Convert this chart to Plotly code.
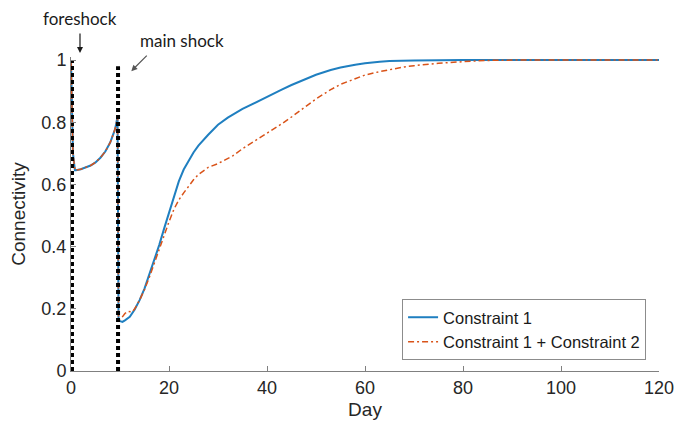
import plotly.graph_objects as go

# Connectivity recovery after the foreshock / main shock sequence
days_c1 = [0, 0.4, 0.8, 1, 2, 3, 4, 5, 6, 7, 8, 9, 9.5, 9.7, 10.5, 11, 12, 13, 14, 15,
           16, 17, 18, 19, 20, 21, 22, 23, 24, 25, 26, 27, 28, 30, 32, 35, 38, 40, 43,
           45, 48, 50, 53, 55, 58, 60, 63, 65, 70, 75, 80, 90, 100, 110, 120]
conn_c1 = [1.0, 0.70, 0.646, 0.646, 0.649, 0.654, 0.661, 0.671, 0.686, 0.706, 0.735,
           0.778, 0.818, 0.162, 0.158, 0.163, 0.174, 0.198, 0.228, 0.265, 0.31, 0.358,
           0.405, 0.458, 0.51, 0.565, 0.61, 0.648, 0.678, 0.703, 0.725, 0.744, 0.76,
           0.792, 0.815, 0.843, 0.867, 0.882, 0.905, 0.92, 0.94, 0.953, 0.968, 0.976,
           0.985, 0.99, 0.995, 0.997, 0.999, 1.0, 1.0, 1.0, 1.0, 1.0, 1.0]

days_c12 = [0, 0.4, 0.8, 1, 2, 3, 4, 5, 6, 7, 8, 9, 9.5, 9.7, 10.2, 11, 11.6, 12.5, 13,
            14, 15, 16, 17, 18, 19, 20, 21, 22, 23, 24, 25, 26, 27, 28, 30, 32, 33, 35,
            38, 40, 43, 45, 47, 50, 53, 55, 58, 60, 63, 65, 68, 70, 75, 80, 85, 90,
            100, 110, 120]
conn_c12 = [1.0, 0.70, 0.646, 0.646, 0.649, 0.654, 0.661, 0.671, 0.686, 0.706, 0.735,
            0.778, 0.818, 0.165, 0.168, 0.185, 0.192, 0.19, 0.20, 0.228, 0.262, 0.302,
            0.348, 0.395, 0.44, 0.48, 0.52, 0.55, 0.573, 0.595, 0.615, 0.632, 0.645,
            0.655, 0.667, 0.682, 0.692, 0.715, 0.745, 0.763, 0.795, 0.817, 0.84, 0.875,
            0.905, 0.922, 0.94, 0.952, 0.963, 0.97, 0.978, 0.982, 0.99, 0.995, 0.999,
            1.0, 1.0, 1.0, 1.0]

# Shock events (day, height of the marker line)
shock_days = [0.2, 9.6]
shock_tops = [1.0, 0.98]

series_names = ["Constraint 1", "Constraint 1 + Constraint 2"]
x_ticks = [0, 20, 40, 60, 80, 100, 120]
y_ticks = [0, 0.2, 0.4, 0.6, 0.8, 1]

AX_FONT = "Liberation Sans, Arial, sans-serif"

fig = go.Figure()

fig.add_trace(go.Scatter(
    x=days_c1, y=conn_c1, mode="lines", name=series_names[0],
    line=dict(color="#1f7fc0", width=2),
))
fig.add_trace(go.Scatter(
    x=days_c12, y=conn_c12, mode="lines", name=series_names[1],
    line=dict(color="#D95319", width=1.5, dash="6px,3px,2px,3px"),
))

for d, top in zip(shock_days, shock_tops):
    fig.add_trace(go.Scatter(
        x=[d, d], y=[0, top], mode="lines", showlegend=False, hoverinfo="skip",
        line=dict(color="black", width=4, dash="4px,3px"),
    ))

fig.update_layout(
    width=675, height=427,
    margin=dict(l=71, r=16, t=57, b=56, autoexpand=False),
    paper_bgcolor="white", plot_bgcolor="white",
    font=dict(family=AX_FONT, size=18, color="#262626"),
    legend=dict(
        x=0.978, y=0.035, xanchor="right", yanchor="bottom",
        bgcolor="white", bordercolor="#8c8c8c", borderwidth=1,
        font=dict(size=16.5, color="#1a1a1a"),
    ),
    xaxis=dict(
        range=[0, 120], tickvals=x_ticks, showgrid=False, zeroline=False,
        showline=True, linecolor="#808080", linewidth=1, automargin=False,
        ticks="inside", ticklen=5, tickcolor="#808080",
        title=dict(text="Day", font=dict(size=19), standoff=6),
    ),
    yaxis=dict(
        range=[0, 1.01], tickvals=y_ticks, ticktext=["0", "0.2", "0.4", "0.6", "0.8", "1"],
        showgrid=False, zeroline=False, automargin=False,
        showline=True, linecolor="#808080", linewidth=1,
        ticks="inside", ticklen=5, tickcolor="#808080",
        title=dict(text="Connectivity", font=dict(size=19), standoff=10),
    ),
)

# Event labels with pointer arrows
ANN_FONT = dict(family="Lato, Open Sans, sans-serif", size=17, color="#1a1a1a")
fig.add_annotation(xref="paper", yref="paper", x=0.0153, y=1.124, text="foreshock",
                   showarrow=False, font=ANN_FONT, xanchor="center", yanchor="middle")
fig.add_annotation(xref="paper", yref="paper", x=0.0153, y=1.013, text="",
                   showarrow=True, ax=0, ay=-21, arrowhead=2, arrowsize=1,
                   arrowwidth=1.2, arrowcolor="#1a1a1a")
fig.add_annotation(xref="paper", yref="paper", x=0.189, y=1.051, text="main shock",
                   showarrow=False, font=ANN_FONT, xanchor="center", yanchor="middle")
fig.add_annotation(xref="paper", yref="paper", x=0.1025, y=0.955, text="",
                   showarrow=True, ax=17, ay=-17, arrowhead=2, arrowsize=1,
                   arrowwidth=1.2, arrowcolor="#555555")

fig.write_html("out.html")
